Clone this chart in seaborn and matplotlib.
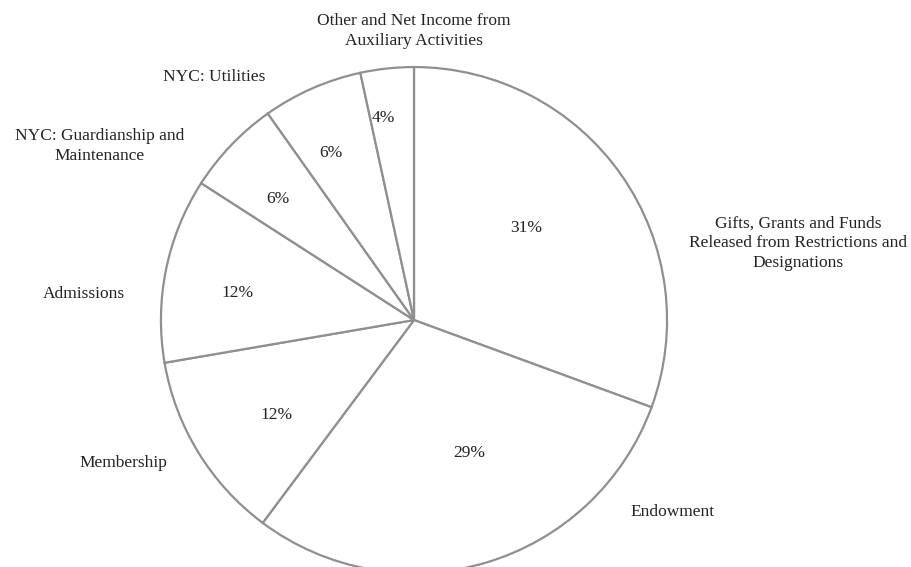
import matplotlib
matplotlib.use("Agg")
import matplotlib.pyplot as plt
import seaborn as sns

# share of revenue, clockwise from 12 o'clock
categories = ["Gifts, Grants and Funds\nReleased from Restrictions and\nDesignations",
              "Endowment", "Membership", "Admissions",
              "NYC: Guardianship and\nMaintenance", "NYC: Utilities",
              "Other and Net Income from\nAuxiliary Activities"]
values = [30.6, 29.6, 12.1, 11.8, 6.1, 6.4, 3.4]
pct_labels = ["31%", "29%", "12%", "12%", "6%", "6%", "4%"]

# label placement (in pie radius units)
cat_pos = [(1.518, 0.304), (1.020, -0.759), (-1.150, -0.565), (-1.304, 0.103),
           (-1.241, 0.688), (-0.791, 0.960), (0.0, 1.142)]
pct_pos = [(0.443, 0.364), (0.217, -0.526), (-0.542, -0.375), (-0.696, 0.107),
           (-0.538, 0.478), (-0.328, 0.660), (-0.123, 0.798)]

sns.set_theme(style="white")
plt.rcParams["font.family"] = ["Liberation Serif", "DejaVu Serif"]

fig = plt.figure(figsize=(9.12, 5.67), dpi=100)
ax = fig.add_axes([0, 0, 1, 1])

ax.pie(values, startangle=90, counterclock=False, radius=1.0,
       colors=["white"] * len(values),
       wedgeprops=dict(edgecolor="#8f8f8f", linewidth=1.6))

for name, (x, y) in zip(categories, cat_pos):
    ax.text(x, y, name, ha="center", va="center", multialignment="center",
            fontsize=12.5, color="#222222", linespacing=1.3)

for txt, (x, y) in zip(pct_labels, pct_pos):
    ax.text(x, y, txt, ha="center", va="center", fontsize=12.5, color="#222222")

ax.set_xlim(-1.636, 1.968)
ax.set_ylim(-0.976, 1.265)
ax.set_aspect("auto")
ax.axis("off")

fig.savefig("out.png", dpi=100, facecolor="white")
